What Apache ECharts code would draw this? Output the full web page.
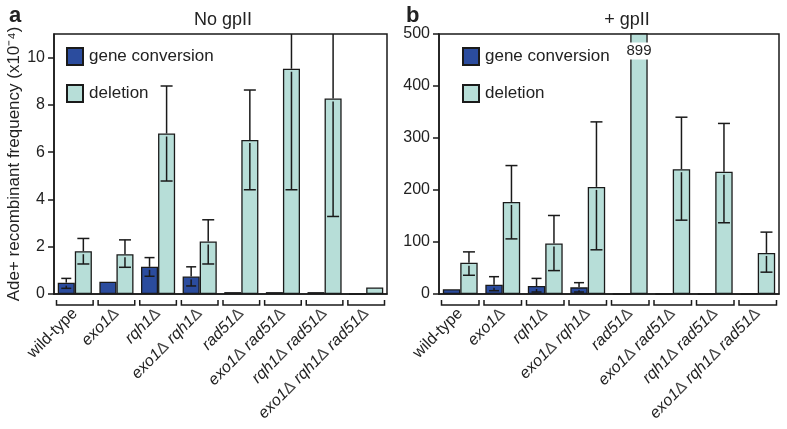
<!DOCTYPE html>
<html>
<head>
<meta charset="utf-8">
<script src="https://cdn.jsdelivr.net/npm/echarts@6/dist/echarts.min.js"></script>
<style>html,body{margin:0;padding:0;background:#fff}#c{width:787px;height:429px}</style>
</head>
<body>
<div id="c"></div>
<script>
const categories = ['wild-type','exo1Δ','rqh1Δ','exo1Δ rqh1Δ','rad51Δ','exo1Δ rad51Δ','rqh1Δ rad51Δ','exo1Δ rqh1Δ rad51Δ'];
const seriesNames = ['gene conversion','deletion'];
const panelTitles = ['No gpII','+ gpII'];
const panelLetters = ['a','b'];
const yAxisName = 'Ade+ recombinant frequency (x10⁻⁴)';
const ticksA = [0,2,4,6,8,10];
const ticksB = [0,100,200,300,400,500];

// Panel a: No gpII
const noGC     = [0.48, 0.52, 1.15, 0.74, 0.08, 0.08, 0.08, 0];
const noGCLow  = [0.24, null, 0.75, 0.34, null, null, null, null];
const noGCHigh = [0.66, null, 1.54, 1.15, null, null, null, null];
const noDel     = [1.81, 1.68, 6.79, 2.22, 6.52, 9.53, 8.27, 0.28];
const noDelLow  = [1.27, 1.13, 4.78, 1.27, 4.41, 4.41, 3.28, null];
const noDelHigh = [2.35, 2.29, 8.80, 3.14, 8.63, 12.5, 12.5, null];

// Panel b: + gpII
const gpGC     = [9, 18, 15.4, 12.8, 0, 0, 0, 0];
const gpGCLow  = [null, 6.4, 3.8, 3.8, null, null, null, null];
const gpGCHigh = [null, 33.3, 30, 21.8, null, null, null, null];
const gpDel     = [60, 177, 97, 206, 899, 240, 235, 79];
const gpDelLow  = [36, 106, 45, 85, null, 142, 137, 42];
const gpDelHigh = [81, 247, 151, 331, null, 340, 328, 119];

const maxA = 11, maxB = 500;
const GAP = 0.18;
const FONT = '"Liberation Sans", Arial, sans-serif';
const GC_COLOR = '#2b4c9e';
const DEL_COLOR = '#b7ded8';
const LINE = '#1a1a1a';

function labelFmt(v){
  if (v.indexOf('Δ') < 0) return v;
  return v.replace(/([A-Za-z0-9]+)Δ/g, '{i|$1}{d|Δ}');
}

function errSeries(gridIdx, vals, lows, highs, sign, capW, yMax){
  const data = categories.map((c,i)=>[i, vals[i], lows[i]==null?NaN:lows[i], highs[i]==null?NaN:highs[i]]);
  return {
    type:'custom', xAxisIndex:gridIdx, yAxisIndex:gridIdx, z:5, silent:true,
    encode:{x:0,y:1},
    data:data,
    renderItem:function(params, api){
      const idx = api.value(0), v = api.value(1), lo = api.value(2), hi = api.value(3);
      const catW = api.size([1,0])[0];
      const bw = catW*(1-GAP)/2;
      const cx = api.coord([idx,0])[0] + sign*bw/2;
      const top = params.coordSys.y;
      const yV = api.coord([idx, Math.min(v, yMax)])[1];
      const children = [];
      const ls = {stroke:LINE, lineWidth:1.5};
      if (!isNaN(hi)) {
        const yH = api.coord([idx, hi])[1];
        const yHc = Math.max(yH, top);
        children.push({type:'line', shape:{x1:cx,y1:yV,x2:cx,y2:yHc}, style:ls});
        if (yH >= top) children.push({type:'line', shape:{x1:cx-capW/2,y1:yH,x2:cx+capW/2,y2:yH}, style:ls});
      }
      if (!isNaN(lo)) {
        const yL = api.coord([idx, lo])[1];
        if (yL - yV > 4) children.push({type:'line', shape:{x1:cx,y1:yV+3,x2:cx,y2:yL}, style:ls});
        children.push({type:'line', shape:{x1:cx-capW/2,y1:yL,x2:cx+capW/2,y2:yL}, style:ls});
      }
      if (v > yMax) {
        children.push({type:'text', style:{text:String(v), x:cx, y:top+17, align:'center', verticalAlign:'middle',
          fill:'#222', font:'15px '+FONT, backgroundColor:'#fff', padding:[1,1]}});
      }
      return {type:'group', children:children};
    }
  };
}

function bracketSeries(gridIdx){
  return {
    type:'custom', xAxisIndex:gridIdx, yAxisIndex:gridIdx, silent:true, clip:false,
    encode:{x:0,y:1},
    data:categories.map((c,i)=>[i,0]),
    renderItem:function(params, api){
      const p = api.coord([api.value(0),0]);
      const w = api.size([1,0])[0];
      const x1 = p[0]-w/2+2.5, x2 = p[0]+w/2-2.5, y = p[1]+11;
      return {type:'polyline', shape:{points:[[x1,y-5],[x1,y],[x2,y],[x2,y-5]]},
        style:{stroke:LINE, lineWidth:1.5, fill:null}};
    }
  };
}

function barSeries(gridIdx, name, vals, color){
  return {
    type:'bar', name:name, xAxisIndex:gridIdx, yAxisIndex:gridIdx,
    data:vals, barGap:'0%', barCategoryGap:(GAP*100)+'%', clip:true,
    itemStyle:{color:color, borderColor:LINE, borderWidth:1.3},
    emphasis:{disabled:true}
  };
}

function xAxis(gridIdx){
  return {
    type:'category', gridIndex:gridIdx, data:categories,
    axisLine:{show:true, lineStyle:{color:LINE, width:1.5}},
    axisTick:{show:false},
    axisLabel:{rotate:45, margin:17, fontSize:16, color:'#222', fontFamily:FONT, formatter:labelFmt,
      rich:{i:{fontStyle:'italic', fontSize:16, fontFamily:FONT, color:'#222'},
            d:{fontStyle:'normal', fontSize:16, fontFamily:FONT, color:'#444'}}}
  };
}

function yAxis(gridIdx, max, interval, ticks, name){
  return {
    type:'value', gridIndex:gridIdx, min:0, max:max, interval:interval,
    name:name||'', nameLocation:'middle', nameRotate:90, nameGap:27,
    nameTextStyle:{fontSize:17, color:'#222', fontFamily:FONT},
    splitLine:{show:false},
    axisLine:{show:true, lineStyle:{color:LINE, width:1.5}},
    axisTick:{show:true, length:6, lineStyle:{color:LINE, width:1.5}, customValues:ticks},
    axisLabel:{fontSize:16, color:'#222', fontFamily:FONT, margin:9, customValues:ticks}
  };
}

const chart = echarts.init(document.getElementById('c'), null, {renderer:'canvas'});
chart.setOption({
  animation:false,
  backgroundColor:'#fff',
  title:[
    {text:panelTitles[0], left:218, top:6, textAlign:'center', textStyle:{fontSize:18, fontWeight:'normal', color:'#222', fontFamily:FONT}},
    {text:panelTitles[1], left:622, top:6, textAlign:'center', textStyle:{fontSize:18, fontWeight:'normal', color:'#222', fontFamily:FONT}},
    {text:panelLetters[0], left:4, top:0, textStyle:{fontSize:22, fontWeight:'bold', color:'#222', fontFamily:FONT}},
    {text:panelLetters[1], left:401, top:0, textStyle:{fontSize:22, fontWeight:'bold', color:'#222', fontFamily:FONT}}
  ],
  legend:[
    {data:seriesNames, orient:'vertical', left:66, top:47, padding:0, itemWidth:16, itemHeight:17, itemGap:18,
     icon:'rect', selectedMode:false, textStyle:{fontSize:17, color:'#222', fontFamily:FONT, padding:[0,0,0,1]}},
    {data:seriesNames, orient:'vertical', left:462, top:47, padding:0, itemWidth:16, itemHeight:17, itemGap:18,
     icon:'rect', selectedMode:false, textStyle:{fontSize:17, color:'#222', fontFamily:FONT, padding:[0,0,0,1]}}
  ],
  grid:[
    {left:54, top:34, width:333, height:260, show:true, borderColor:LINE, borderWidth:1.5, backgroundColor:'transparent'},
    {left:439, top:34, width:340, height:260, show:true, borderColor:LINE, borderWidth:1.5, backgroundColor:'transparent'}
  ],
  xAxis:[xAxis(0), xAxis(1)],
  yAxis:[yAxis(0, maxA, 2, ticksA, yAxisName), yAxis(1, maxB, 100, ticksB)],
  series:[
    barSeries(0, seriesNames[0], noGC, GC_COLOR),
    barSeries(0, seriesNames[1], noDel, DEL_COLOR),
    barSeries(1, seriesNames[0], gpGC, GC_COLOR),
    barSeries(1, seriesNames[1], gpDel, DEL_COLOR),
    errSeries(0, noGC, noGCLow, noGCHigh, -1, 10, maxA),
    errSeries(0, noDel, noDelLow, noDelHigh, 1, 12, maxA),
    errSeries(1, gpGC, gpGCLow, gpGCHigh, -1, 10, maxB),
    errSeries(1, gpDel, gpDelLow, gpDelHigh, 1, 12, maxB),
    bracketSeries(0),
    bracketSeries(1)
  ]
});
</script>
</body>
</html>
